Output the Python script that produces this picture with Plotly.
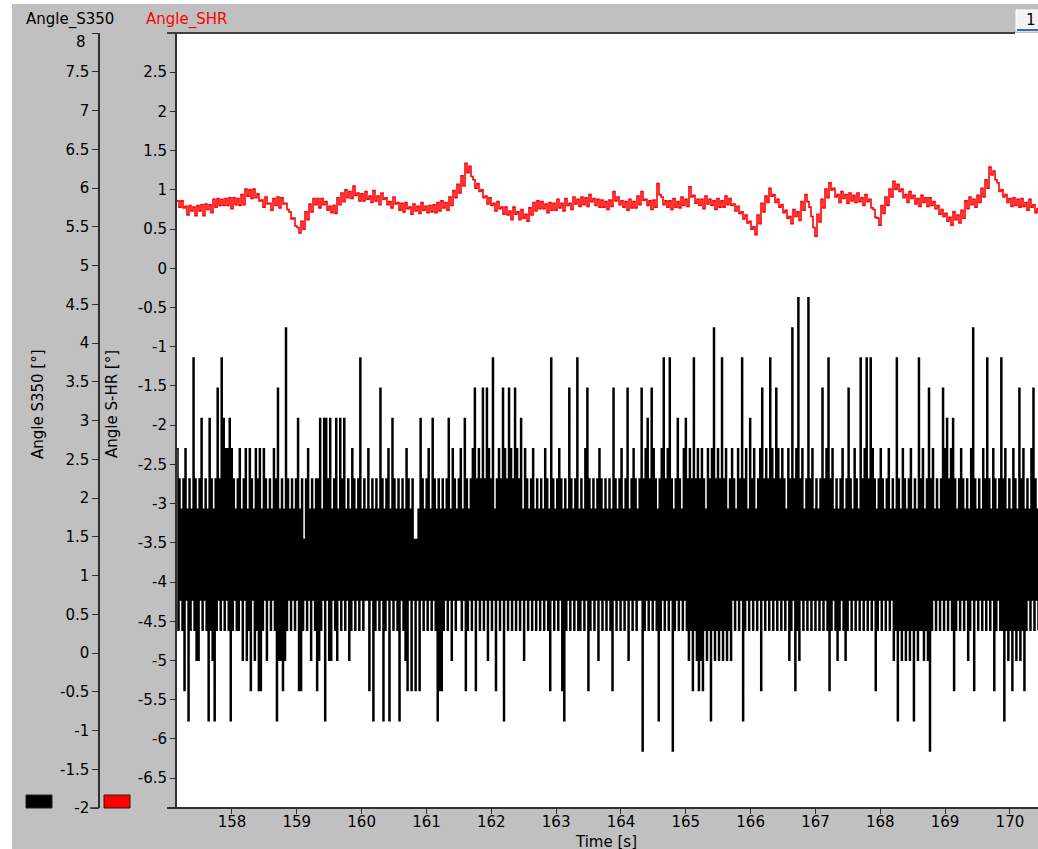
import numpy as np
import plotly.graph_objects as go

W, H = 1038, 849
M_T, M_B = 33, 41
PLOT_H = H - M_T - M_B

# ---------------- data ----------------
T_START = 157.152          # left edge of the visible window [s]
T_END = 170.433            # right edge of the visible window [s]

# Angle_S350 is quantised: one code character = one level.
S350_LEVELS = {
    '0': -1.265, '1': -0.875, '2': -0.485, '3': -0.095, '4': 0.295,
    '5': 0.685, '6': 1.075, '7': 1.465, '8': 1.855, '9': 2.245,
    'a': 2.635, 'b': 3.025, 'c': 3.415, 'd': 3.805, 'e': 4.195,
    'f': 4.585, 'g': 4.975,
}
# upper / lower level reached in each successive short time slice
S350_TOP = (
    "a989a898d989b898b989c9dbaaba989a89a8a98a9a8a9898a9"
    "c898e98989b8979a89899b8bb9b89b8b9b898a989d898a8989"
    "8c989a8b989898a989778b989a8b9898989b8a989a8b989ac9"
    "a9c9ca9d89a9ca9ca9ca9b8a989a89898a98d989a9898c989d"
    "898ac98989a989898c989a89c89a989c9ab9ca989ad9ad989b"
    "98ab9a9d9a9a98a9ae9a9d9a89a98a9d9a8b9a89ac9a9da9ca"
    "9a98a9e9af9a89f9a8989c9ad9a8989a89c98a98d9ad9da989"
    "a989a898d98a989a898d9a89c9a8989cab9ab989a9898ae989"
    "8a9d98a989d9a898a98c9a898ac989"
)
S350_BOT = (
    "45425145433545414314545454145445353425342245354541"
    "33234545452245453542345153354354545345454545525145"
    "45145154541543252525254545454122454535455452454525"
    "45453545254515454545453545454545454254545214545454"
    "45452454535454542545454535454550454545414545450454"
    "54543424323243414343434343545451454545452545454545"
    "45453452435454545454545424543454345454545454545245"
    "45454534143434341434434304545454545424545453452545"
    "45454524544143424343424545454"
)

# Angle_SHR band (upper / lower edge), hundredths of a degree,
# one pair every SHR_DT seconds
SHR_DT = 0.0617
SHR_HI = [
    86, 86, 79, 80, 78, 80, 81, 82, 81, 88, 89, 88, 89, 90, 90, 89, 94, 101, 100, 101,
    95, 87, 91, 83, 89, 91, 90, 83, 72, 64, 52, 60, 72, 82, 89, 89, 89, 85, 79, 80,
    90, 96, 100, 98, 105, 96, 95, 98, 92, 99, 92, 96, 90, 85, 91, 84, 83, 84, 78, 82,
    79, 84, 79, 80, 81, 84, 86, 84, 91, 99, 107, 118, 134, 130, 113, 108, 100, 92, 90, 83,
    85, 78, 78, 73, 78, 72, 75, 69, 77, 84, 86, 85, 82, 84, 83, 88, 83, 89, 83, 91,
    88, 91, 90, 94, 89, 88, 87, 85, 87, 98, 91, 86, 85, 88, 85, 92, 98, 88, 86, 87,
    108, 91, 86, 86, 89, 85, 91, 88, 104, 93, 88, 88, 92, 88, 86, 89, 86, 92, 89, 82,
    79, 72, 68, 60, 53, 68, 83, 92, 102, 94, 88, 81, 74, 66, 75, 72, 85, 94, 78, 52,
    69, 88, 101, 109, 102, 94, 98, 94, 96, 93, 96, 90, 94, 88, 75, 64, 80, 91, 101, 111,
    107, 101, 94, 98, 93, 89, 93, 90, 90, 85, 80, 75, 70, 65, 72, 68, 74, 86, 91, 88,
    93, 102, 113, 129, 124, 109, 100, 94, 89, 90, 88, 89, 84, 88, 81, 76,
]
SHR_LO = [
    78, 77, 68, 73, 67, 73, 67, 75, 71, 78, 80, 80, 80, 76, 81, 80, 81, 92, 89, 90,
    86, 78, 82, 74, 80, 77, 82, 75, 63, 54, 45, 50, 62, 72, 81, 77, 81, 74, 71, 70,
    81, 85, 90, 89, 93, 86, 86, 88, 84, 86, 81, 88, 81, 77, 82, 74, 72, 76, 69, 73,
    70, 74, 71, 72, 71, 73, 77, 74, 80, 90, 96, 105, 122, 117, 102, 98, 90, 82, 80, 73,
    76, 69, 68, 62, 69, 62, 64, 60, 68, 73, 76, 76, 71, 74, 74, 77, 73, 80, 75, 82,
    79, 81, 79, 85, 80, 78, 78, 75, 79, 86, 81, 78, 74, 77, 77, 81, 87, 80, 75, 78,
    94, 81, 78, 75, 78, 77, 80, 79, 91, 83, 80, 76, 82, 80, 75, 78, 78, 81, 80, 73,
    70, 63, 58, 50, 43, 57, 72, 84, 92, 84, 78, 71, 64, 57, 66, 61, 74, 85, 66, 41,
    59, 77, 90, 100, 91, 84, 89, 83, 86, 84, 85, 80, 85, 77, 65, 55, 70, 80, 91, 101,
    98, 90, 84, 89, 82, 79, 84, 79, 80, 76, 69, 66, 60, 55, 62, 58, 64, 76, 81, 78,
    84, 91, 102, 119, 113, 98, 91, 84, 79, 80, 78, 79, 74, 78, 71, 68,
]

X_TICKS = [158, 159, 160, 161, 162, 163, 164, 165, 166, 167, 168, 169, 170]
Y1_TICKS = [-2, -1.5, -1, -0.5, 0, 0.5, 1, 1.5, 2, 2.5, 3, 3.5, 4, 4.5, 5,
            5.5, 6, 6.5, 7, 7.5, 8]
Y2_TICKS = [-6.5, -6, -5.5, -5, -4.5, -4, -3.5, -3, -2.5, -2, -1.5, -1, -0.5,
            0, 0.5, 1, 1.5, 2, 2.5]
Y1_RANGE = [-2, 8]
Y2_RANGE = [-6.88, 3.0]

# ---------------- build ----------------
n350 = min(len(S350_TOP), len(S350_BOT))
s350 = []
for a, b in zip(S350_TOP[:n350], S350_BOT[:n350]):
    s350.append(S350_LEVELS[a])
    s350.append(S350_LEVELS[b])
s350 = np.array(s350)
t350 = np.linspace(T_START, T_END, len(s350))

shr = []
for hi, lo in zip(SHR_HI, SHR_LO):
    shr.append(hi / 100.0)
    shr.append(lo / 100.0)
shr = np.array(shr)
tshr = T_START + (SHR_DT / 2.0) * np.arange(len(shr))


def lab(v):
    return f"{v:g}"


def PX(x):
    return x / W


def PY(y):
    return (H - M_B - y) / PLOT_H


FONT = "DejaVu Sans"
FS = 15
AX_COL = "#303030"

fig = go.Figure()
fig.add_trace(go.Scatter(
    x=t350, y=s350, mode="lines", yaxis="y", name="Angle_S350",
    line=dict(color="black", width=1.5, shape="hv", simplify=False),
    hoverinfo="skip"))
fig.add_trace(go.Scatter(
    x=tshr, y=shr, mode="lines", yaxis="y2", name="Angle_SHR",
    line=dict(color="#ff0000", width=1.6, shape="hv", simplify=False),
    hoverinfo="skip"))

shapes = [
    dict(type="rect", xref="paper", yref="paper", x0=PX(0), x1=PX(12),
         y0=PY(H), y1=PY(0), fillcolor="white", line_width=0, layer="below"),
    dict(type="rect", xref="paper", yref="paper", x0=PX(0), x1=PX(W),
         y0=PY(4), y1=PY(0), fillcolor="white", line_width=0, layer="below"),
    dict(type="line", xref="paper", yref="paper", x0=PX(167), x1=PX(1015),
         y0=PY(33), y1=PY(33), line=dict(color="#404040", width=2)),
    dict(type="line", xref="paper", yref="paper", x0=PX(167), x1=PX(W),
         y0=PY(808), y1=PY(808), line=dict(color=AX_COL, width=2)),
    dict(type="line", xref="paper", yref="paper", x0=PX(90), x1=PX(99),
         y0=PY(808), y1=PY(808), line=dict(color=AX_COL, width=1.5)),
    dict(type="rect", xref="paper", yref="paper", x0=PX(1016), x1=PX(1040),
         y0=PY(31), y1=PY(10), fillcolor="#f2f2f2",
         line=dict(color="#ffffff", width=1)),
    dict(type="line", xref="paper", yref="paper", x0=PX(1017), x1=PX(W),
         y0=PY(30), y1=PY(30), line=dict(color="#3e6aa8", width=2)),
    dict(type="rect", xref="paper", yref="paper", x0=PX(26), x1=PX(52),
         y0=PY(808), y1=PY(795), fillcolor="black",
         line=dict(color="#202020", width=1)),
    dict(type="rect", xref="paper", yref="paper", x0=PX(104), x1=PX(130),
         y0=PY(808), y1=PY(795), fillcolor="#ff0000",
         line=dict(color="#202020", width=1)),
]

annotations = [
    dict(text="Angle_S350", x=PX(24), y=PY(20), xref="paper", yref="paper",
         xanchor="left", yanchor="middle", showarrow=False,
         font=dict(family=FONT, size=FS, color="black")),
    dict(text="Angle_SHR", x=PX(144), y=PY(20), xref="paper", yref="paper",
         xanchor="left", yanchor="middle", showarrow=False,
         font=dict(family=FONT, size=FS, color="#ff0000")),
    dict(text="1", x=PX(1031), y=PY(20), xref="paper", yref="paper",
         xanchor="center", yanchor="middle", showarrow=False,
         font=dict(family=FONT, size=FS, color="black")),
    dict(text=lab(Y1_TICKS[-1]), x=PX(88), y=PY(42), xref="paper", yref="paper",
         xanchor="right", yanchor="middle", showarrow=False,
         font=dict(family=FONT, size=FS, color="black")),
    dict(text="Angle S350 [°]", x=PX(38), y=PY(404), xref="paper", yref="paper",
         xanchor="center", yanchor="middle", textangle=-90, showarrow=False,
         font=dict(family=FONT, size=FS, color="black")),
    dict(text="Angle S-HR [°]", x=PX(112), y=PY(404), xref="paper", yref="paper",
         xanchor="center", yanchor="middle", textangle=-90, showarrow=False,
         font=dict(family=FONT, size=FS, color="black")),
    dict(text="Time [s]", x=PX(606), y=PY(842), xref="paper", yref="paper",
         xanchor="center", yanchor="middle", showarrow=False,
         font=dict(family=FONT, size=FS, color="black")),
]

tickfont = dict(family=FONT, size=FS, color="black")
y1_text = [lab(v) for v in Y1_TICKS[:-1]] + [""]

fig.update_layout(
    width=W, height=H,
    margin=dict(l=0, r=0, t=M_T, b=M_B, pad=0),
    paper_bgcolor="#c0c0c0",
    plot_bgcolor="white",
    showlegend=False,
    shapes=shapes,
    annotations=annotations,
    xaxis=dict(
        domain=[PX(177), 1], range=[T_START, T_END], anchor="y2",
        tickmode="array", tickvals=X_TICKS, ticktext=[lab(v) for v in X_TICKS],
        ticks="outside", ticklen=5, tickwidth=1, tickcolor=AX_COL,
        ticklabelstandoff=-5,
        showline=False, showgrid=False, zeroline=False,
        tickfont=tickfont, automargin=False,
    ),
    yaxis=dict(
        range=Y1_RANGE, anchor="free", position=PX(99), side="left",
        tickmode="array", tickvals=Y1_TICKS, ticktext=y1_text,
        ticks="outside", ticklen=6, tickwidth=1, tickcolor=AX_COL,
        showline=True, linecolor=AX_COL, linewidth=1.5,
        showgrid=False, zeroline=False, tickfont=tickfont, automargin=False,
    ),
    yaxis2=dict(
        range=Y2_RANGE, overlaying="y", anchor="x", side="left",
        tickmode="array", tickvals=Y2_TICKS, ticktext=[lab(v) for v in Y2_TICKS],
        ticks="outside", ticklen=5, tickwidth=1, tickcolor=AX_COL,
        showline=True, linecolor=AX_COL, linewidth=2,
        showgrid=False, zeroline=False, tickfont=tickfont, automargin=False,
    ),
)

fig.write_html(
    "out.html",
    config={"displayModeBar": False},
    post_script="document.body.style.margin='0px';"
                "document.body.style.overflow='hidden';",
)
